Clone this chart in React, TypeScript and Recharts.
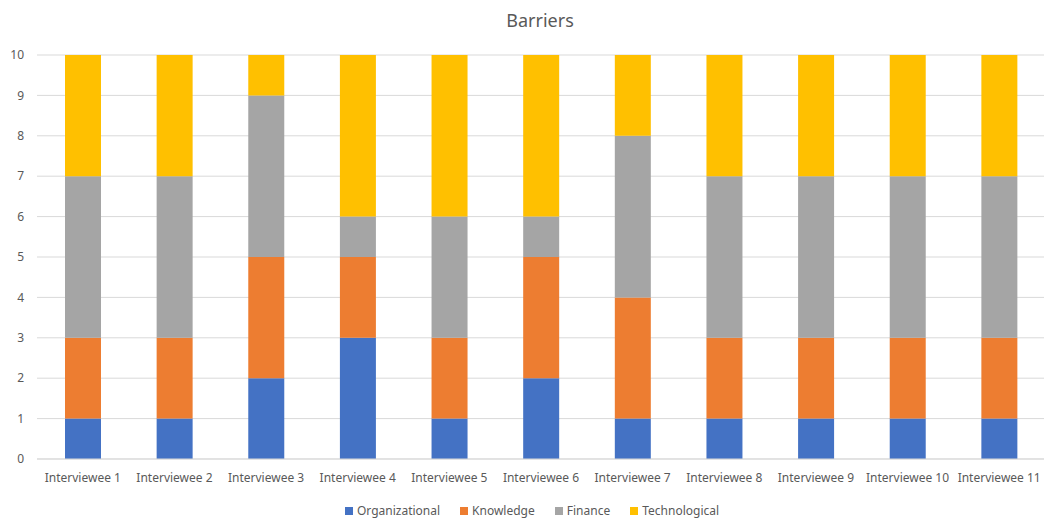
import { BarChart, Bar, XAxis, YAxis, CartesianGrid } from "recharts"

const interviewees = [
  "Interviewee 1", "Interviewee 2", "Interviewee 3", "Interviewee 4", "Interviewee 5", "Interviewee 6",
  "Interviewee 7", "Interviewee 8", "Interviewee 9", "Interviewee 10", "Interviewee 11",
]
const organizational = [1, 1, 2, 3, 1, 2, 1, 1, 1, 1, 1]
const knowledge = [2, 2, 3, 2, 2, 3, 3, 2, 2, 2, 2]
const finance = [4, 4, 4, 1, 3, 1, 4, 4, 4, 4, 4]
const technological = [3, 3, 1, 4, 4, 4, 2, 3, 3, 3, 3]
const yTicks = [0, 1, 2, 3, 4, 5, 6, 7, 8, 9, 10]

const series = [
  { key: "Organizational", color: "#4472C4" },
  { key: "Knowledge", color: "#ED7D31" },
  { key: "Finance", color: "#A5A5A5" },
  { key: "Technological", color: "#FFC000" },
]

const data = interviewees.map((name, i) => ({
  name,
  Organizational: organizational[i],
  Knowledge: knowledge[i],
  Finance: finance[i],
  Technological: technological[i],
}))

const FONT = "'Noto Sans', sans-serif"
const TXT = "#595959"

export default function App() {
  return (
    <div style={{ position: "absolute", left: 0, top: 0, width: 1044, height: 520, overflow: "hidden", background: "#fff" }}>
      <div style={{ position: "absolute", top: 8, left: 0, width: 1080, textAlign: "center", fontFamily: FONT, fontSize: 18, color: TXT }}>
        Barriers
      </div>
      <BarChart width={1048} height={520} data={data} margin={{ top: 55, right: 3, left: 0, bottom: 31 }}>
        <CartesianGrid vertical={false} stroke="#d9d9d9" />
        <XAxis dataKey="name" height={30} tickLine={false} axisLine={{ stroke: "#d9d9d9" }} tickSize={0} tickMargin={14}
          interval={0} tick={{ fill: TXT, fontSize: 12, fontFamily: FONT }} />
        <YAxis width={37} domain={[0, 10]} ticks={yTicks} axisLine={false} tickLine={false} tickSize={0} tickMargin={13}
          tick={{ fill: TXT, fontSize: 12, fontFamily: FONT }} />
        {series.map(s => (
          <Bar key={s.key} dataKey={s.key} stackId="a" fill={s.color} barSize={36} isAnimationActive={false} />
        ))}
      </BarChart>
      {/* legend kept outside the chart so it doesn't shrink the plot */}
      <div style={{ position: "absolute", top: 502, left: 10, width: 1044, display: "flex", justifyContent: "center", gap: 20, fontFamily: FONT, fontSize: 12, color: TXT }}>
        {series.map(s => (
          <span key={s.key} style={{ display: "flex", alignItems: "center" }}>
            <span style={{ width: 8, height: 8, background: s.color, marginRight: 4, display: "inline-block" }} />
            {s.key}
          </span>
        ))}
      </div>
    </div>
  )
}
